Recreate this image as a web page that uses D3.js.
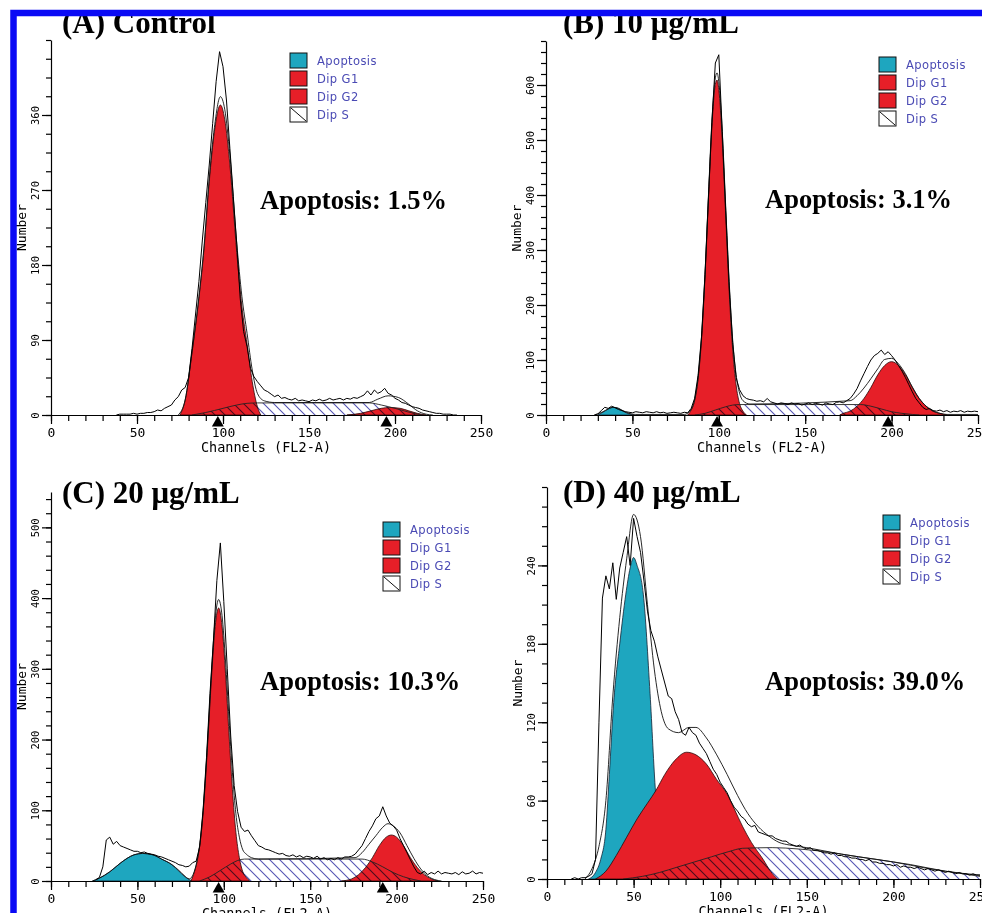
<!DOCTYPE html>
<html>
<head>
<meta charset="utf-8">
<script src="https://cdn.jsdelivr.net/npm/d3@7"></script>
<style>
body { margin: 0; padding: 0; background: #fff; }
</style>
</head>
<body>
<div id="main"></div>
<script>
// ---- data ----
const RAW_STEP = 2;
const legendLabels = ['Apoptosis', 'Dip G1', 'Dip G2', 'Dip S'];
const xTickLabels = [0, 50, 100, 150, 200, 250];

// (A) Control
const rawStartA = 38;
const rawA = [0,1,1,1,1,2,1,2,2,3, 3,4,6,5,8,10,12,18,22,30, 33,45,80,120,160,210,255,300,350,400,
  436,418,378,320,262,205,140,100,82,56, 46,40,35,30,28,25,22,24,20,21, 19,18,20,17,18,17,16,18,17,19,
  17,18,20,18,19,20,18,20,19,21, 20,22,24,29,24,30,26,28,32,26, 24,20,18,15,14,12,10,9,8,6, 5,4,3,2,2,1,1,1,0,0];
const envA = [[74,0],[78,18],[82,76],[86,142],[89,203],[92,284],[95,345],[98.5,382],[101,367],[104,312],[108,206],[111,142],[114,98],[117,54],[120,26],[124,17],[130,15],[185,15],[190,19],[196,23],[202,21],[208,13],[213,5],[218,1],[222,0]];
const apoA = [];
const g1A = [[75,0],[78,18],[82,75],[86,140],[89,200],[92,280],[95,340],[98.5,372],[101,355],[104,300],[108,195],[111,130],[114,85],[117,40],[120,10],[122,0]];
const g2A = [[172,0],[180,2],[186,5],[192,8],[197,9],[203,8],[208,5],[213,2],[218,0]];
const sA = [[82,0],[90,3],[100,8],[108,12],[114,14],[120,14.5],[185,14.5],[192,12],[200,8],[207,4],[212,1.5],[216,0]];
const peaksA = [97, 195];

// (B) 10 ug/mL
const rawStartB = 28;
const rawB = [0,2,8,14,12,16,13,10,8,6, 5,4,6,5,4,6,5,4,6,4, 5,3,4,5,4,3,5,4,12,30,
  72,142,255,395,532,640,655,515,372,235, 132,68,46,35,30,28,27,25,26,24, 30,24,22,20,22,21,19,22,20,21,
  18,20,22,19,21,20,18,22,20,19, 23,24,22,26,30,38,48,62,75,88, 100,108,112,118,110,115,108,100,90,80,
  68,55,42,30,22,14,10,12,8,7, 9,6,8,5,7,6,8,5,7,6, 7,6];
const envB = [[28,0],[30,2],[33,6],[36,11],[39,14],[42,12],[45,7],[48,3],[52,1],[80,1],[84,10],[86,28],[88,68],[90,142],[92,255],[94,398],[96,534],[98,613],[99,622],[100,606],[102,516],[104,379],[106,243],[108,138],[110,74],[112,40],[114,26],[118,20],[176,26],[180,35],[184,49],[188,66],[192,84],[196,101],[200,103],[204,93],[208,75],[212,51],[216,30],[220,16],[224,7],[228,3],[232,1],[250,1]];
const apoB = [[30,0],[33,5],[36,11],[39,14],[42,12],[45,6],[48,2],[51,0]];
const g1B = [[82,0],[84,9],[86,26],[88,65],[90,137],[92,250],[94,391],[96,524],[98,601],[99,609],[100,592],[102,500],[104,362],[106,225],[108,120],[110,55],[112,21],[114,7],[116,0]];
const g2B = [[170,0],[172,3],[176,7],[180,16],[184,30],[188,50],[192,73],[196,90],[200,97],[204,90],[208,73],[212,50],[216,30],[220,16],[224,7],[228,3],[232,0]];
const sB = [[86,0],[92,3],[98,9],[104,15],[108,18],[112,19],[182,19],[188,16],[194,11],[200,6],[206,3],[212,1],[216,0]];
const peaksB = [99, 198];

// (C) 20 ug/mL
const rawStartC = 26;
const rawC = [2,5,20,58,62,52,56,50,48,46, 44,42,42,40,41,39,38,37,35,34, 32,30,28,26,23,22,20,21,26,28,
  48,100,175,265,340,425,478,395,300,205, 135,98,76,70,72,64,57,50,48,45, 44,42,40,38,39,36,35,37,34,36,
  33,35,34,32,35,31,33,30,32,30, 33,31,34,34,35,38,44,50,60,70, 78,88,92,105,92,82,78,72,60,50,
  40,30,20,12,10,14,9,12,10,14, 10,12,11,10,12,9,13,10,11,14, 10,12,11];
const envC = [[24,0],[28,4],[34,13],[40,25],[44,32],[48,37],[53,39],[59,37],[64,31],[70,23],[74,15],[77,8],[80,3],[83,14],[85,35],[87,70],[89,132],[91,213],[93,300],[95,370],[97,398],[99,375],[101,311],[103,230],[105,153],[107,95],[109,62],[111,44],[113,38],[116,33],[120,31],[176,33],[180,40],[184,52],[188,64],[192,76],[195,81],[198,78],[202,68],[206,50],[210,32],[214,17],[218,7],[222,2],[226,0]];
const apoC = [[24,0],[28,4],[34,13],[40,25],[44,32],[48,37],[53,39],[59,37],[64,31],[70,23],[74,14],[77,7],[80,2],[82,0]];
const g1C = [[81,0],[83,13],[85,33],[87,69],[89,129],[91,208],[93,293],[95,360],[97,386],[99,360],[101,293],[103,208],[105,129],[107,69],[109,33],[111,13],[113,5],[115,0]];
const g2C = [[168,0],[174,3],[178,9],[182,19],[186,33],[190,50],[194,62],[197,65],[200,62],[204,50],[208,33],[212,19],[216,9],[220,3],[224,0]];
const sC = [[86,0],[92,6],[98,15],[104,24],[108,29],[112,31],[180,31],[186,27],[192,20],[198,12],[204,6],[210,2],[214,0]];
const peaksC = [97, 192];

// (D) 40 ug/mL
const rawStartD = 14;
const rawD = [0,1,0,1,1,2,4,15,120,215, 232,222,242,214,238,250,262,240,276,262, 250,228,205,190,182,170,160,150,140,138,
  128,122,112,110,116,112,110,104,100,96, 90,84,80,74,70,66,60,55,52,48, 46,42,40,41,36,35,34,33,33,31,
  30,29,29,27,26,25,26,24,23,24, 22,22,21,20,20,19,20,18,18,17, 17,16,16,15,15,14,15,13,13,12,
  12,11,11,10,11,9,10,9,9,8, 9,8,7,8,7,6,7,6,5,6, 5,4,5,4,4,3,4,3,3];
const envD = [[22,0],[26,8],[30,25],[34,60],[38,140],[42,200],[46,245],[50,279],[54,262],[58,210],[62,160],[66,128],[70,115],[76,112],[82,116],[86,116],[92,108],[98,95],[104,80],[110,64],[116,50],[122,40],[128,33],[134,28],[140,26],[150,24],[170,19],[190,15],[210,11],[230,6],[250,3]];
const apoD = [[24,0],[28,5],[31,15],[34,38],[36,80],[38.5,135],[42,180],[45.5,218],[48,238],[50,246],[52,240],[55.6,218],[59.5,142],[62.7,66],[65,35],[68,15],[72,4],[76,0]];
const g1D = [[28,0],[34,6],[40,18],[46,32],[52,46],[58,58],[63,68],[68,80],[74,91],[80.6,97],[86,95],[92,88],[98,76],[104,65],[108,54],[113,40],[118,28],[124.8,15],[129,6],[133,0]];
const g2D = [];
const sD = [[44,0],[55,2],[65,5],[75,9],[85,13],[95,17],[105,21],[113,23.5],[130,24],[145,23],[160,21],[180,17],[200,13],[220,8],[240,4],[250,2]];
const peaksD = [];

// ---- styling ----
const RED = '#e61f28';
const CYAN = '#1ea6bf';
const HATCH = '#5656b4';
const LEGENDTEXT = '#4a4ab4';
const MONO = '"DejaVu Sans Mono", monospace';
const SERIF = '"Liberation Serif", "Times New Roman", serif';

const svg = d3.select('#main').append('svg')
    .attr('width', 982).attr('height', 913)
    .style('display', 'block').style('background', '#fff');

const defs = svg.append('defs');
const hatch = defs.append('pattern').attr('id', 'hatch')
    .attr('patternUnits', 'userSpaceOnUse').attr('width', 10).attr('height', 10);
hatch.append('path')
    .attr('d', 'M0,0 L10,10 M-2,8 L2,12 M8,-2 L12,2')
    .attr('stroke', HATCH).attr('stroke-width', 1.1).attr('fill', 'none');

const drawPanel = (props) => {
    const {
        left, width, bottom, top, yMax, yMajor, yMinor,
        raw, rawStart, envelope, apoptosis, g1, g2, sPhase, peaks,
        title, titleX, titleY, note, noteX, noteY, legendX, legendY
    } = props;
    const x = d3.scaleLinear().domain([0, 250]).range([left, left + width]);
    const y = d3.scaleLinear().domain([0, yMax]).range([bottom, top]);
    const g = svg.append('g');

    const area = d3.area().x(d => x(d[0])).y0(y(0)).y1(d => y(d[1])).curve(d3.curveMonotoneX);
    const line = d3.line().x(d => x(d[0])).y(d => y(d[1])).curve(d3.curveMonotoneX);

    // model components
    if (apoptosis.length) {
        g.append('path').attr('d', area(apoptosis)).attr('fill', CYAN)
            .attr('stroke', '#123').attr('stroke-width', 0.8);
    }
    [g1, g2].filter(c => c.length).forEach(c => {
        g.append('path').attr('d', area(c)).attr('fill', RED)
            .attr('stroke', '#2a0808').attr('stroke-width', 0.8);
    });
    g.append('path').attr('d', area(sPhase)).attr('fill', 'url(#hatch)')
        .style('mix-blend-mode', 'multiply');
    g.append('path').attr('d', line(sPhase)).attr('fill', 'none')
        .attr('stroke', '#222').attr('stroke-width', 0.9);

    // fitted envelope and raw histogram
    g.append('path').attr('d', line(envelope)).attr('fill', 'none')
        .attr('stroke', '#111').attr('stroke-width', 0.9);
    const rawPts = raw.map((v, i) => [rawStart + i * RAW_STEP, v]);
    g.append('path')
        .attr('d', d3.line().x(d => x(d[0])).y(d => y(d[1]))(rawPts))
        .attr('fill', 'none').attr('stroke', '#000').attr('stroke-width', 1);

    // x axis
    const xMinor = d3.axisBottom(x).tickValues(d3.range(0, 251, 10)).tickSize(6).tickSizeOuter(0).tickFormat('');
    const xMajor = d3.axisBottom(x).tickValues(xTickLabels).tickSize(9).tickSizeOuter(0).tickFormat(d3.format('d'));
    g.append('g').attr('transform', `translate(0,${bottom})`).call(xMinor);
    const xm = g.append('g').attr('transform', `translate(0,${bottom})`).call(xMajor);
    xm.select('.domain').remove();
    xm.selectAll('text').attr('y', 13).attr('dy', '0.71em')
        .style('font-family', MONO).style('font-size', '13px').attr('fill', '#000');

    // y axis (the top end of the axis carries no label)
    const yMinorAxis = d3.axisLeft(y).tickValues(d3.range(0, yMax + 0.01, yMinor)).tickSize(5).tickSizeOuter(0).tickFormat('');
    const yMajorAxis = d3.axisLeft(y).tickValues(d3.range(0, yMax - 0.01, yMajor)).tickSize(9).tickSizeOuter(0).tickFormat(d3.format('d'));
    g.append('g').attr('transform', `translate(${left},0)`).call(yMinorAxis);
    const ym = g.append('g').attr('transform', `translate(${left},0)`).call(yMajorAxis);
    ym.select('.domain').remove();
    ym.selectAll('text')
        .attr('x', 0).attr('y', -12).attr('dy', 0)
        .attr('transform', 'rotate(-90)')
        .style('text-anchor', 'middle')
        .style('font-family', MONO).style('font-size', '10.5px').attr('fill', '#000');
    g.selectAll('.domain, .tick line').attr('stroke', '#000').attr('stroke-width', 1.2);

    // G1 / G2 peak markers
    g.selectAll('path.peak').data(peaks).enter().append('path').attr('class', 'peak')
        .attr('d', d3.symbol(d3.symbolTriangle).size(62))
        .attr('transform', d => `translate(${x(d)},${bottom + 8})`)
        .attr('fill', '#000');

    // axis titles
    g.append('text').text('Channels (FL2-A)')
        .attr('x', x(125)).attr('y', bottom + 37)
        .attr('text-anchor', 'middle')
        .style('font-family', MONO).style('font-size', '13.5px');
    g.append('text').text('Number')
        .attr('transform', `translate(${left - 25},${(top + bottom) / 2}) rotate(-90)`)
        .attr('text-anchor', 'middle')
        .style('font-family', MONO).style('font-size', '13px');

    // panel title + apoptosis note
    g.append('text').text(title).attr('x', titleX).attr('y', titleY)
        .style('font-family', SERIF).style('font-weight', 'bold').style('font-size', '31px');
    g.append('text').text(note).attr('x', noteX).attr('y', noteY)
        .style('font-family', SERIF).style('font-weight', 'bold').style('font-size', '26.5px');

    // legend
    const legend = g.append('g').attr('transform', `translate(${legendX},${legendY})`);
    const fills = [CYAN, RED, RED, '#fff'];
    const items = legend.selectAll('g').data(legendLabels).enter().append('g')
        .attr('transform', (d, i) => `translate(0,${i * 18})`);
    items.append('rect').attr('width', 17).attr('height', 15)
        .attr('fill', (d, i) => fills[i]).attr('stroke', '#111').attr('stroke-width', 1);
    items.filter((d, i) => i === 3).append('line')
        .attr('x1', 1).attr('y1', 1).attr('x2', 16).attr('y2', 14)
        .attr('stroke', '#111').attr('stroke-width', 1);
    items.append('text').text(d => d).attr('x', 27).attr('y', 12)
        .attr('fill', LEGENDTEXT)
        .style('font-family', '"DejaVu Sans", sans-serif').style('font-size', '11.5px')
        .style('letter-spacing', '0.4px');
};

drawPanel({ left: 51, width: 430, bottom: 415, top: 40, yMax: 450, yMajor: 90, yMinor: 22.5,
    raw: rawA, rawStart: rawStartA, envelope: envA, apoptosis: apoA, g1: g1A, g2: g2A, sPhase: sA, peaks: peaksA,
    title: '(A) Control', titleX: 62, titleY: 33, note: 'Apoptosis: 1.5%', noteX: 260, noteY: 209,
    legendX: 290, legendY: 53 });
drawPanel({ left: 546, width: 432, bottom: 415, top: 41, yMax: 680, yMajor: 100, yMinor: 20,
    raw: rawB, rawStart: rawStartB, envelope: envB, apoptosis: apoB, g1: g1B, g2: g2B, sPhase: sB, peaks: peaksB,
    title: '(B) 10 μg/mL', titleX: 563, titleY: 33, note: 'Apoptosis: 3.1%', noteX: 765, noteY: 208,
    legendX: 879, legendY: 57 });
drawPanel({ left: 51, width: 432, bottom: 881, top: 492, yMax: 550, yMajor: 100, yMinor: 20,
    raw: rawC, rawStart: rawStartC, envelope: envC, apoptosis: apoC, g1: g1C, g2: g2C, sPhase: sC, peaks: peaksC,
    title: '(C) 20 μg/mL', titleX: 62, titleY: 503, note: 'Apoptosis: 10.3%', noteX: 260, noteY: 690,
    legendX: 383, legendY: 522 });
drawPanel({ left: 547, width: 433, bottom: 879, top: 487, yMax: 300, yMajor: 60, yMinor: 15,
    raw: rawD, rawStart: rawStartD, envelope: envD, apoptosis: apoD, g1: g1D, g2: g2D, sPhase: sD, peaks: peaksD,
    title: '(D) 40 μg/mL', titleX: 563, titleY: 502, note: 'Apoptosis: 39.0%', noteX: 765, noteY: 690,
    legendX: 883, legendY: 515 });

// blue frame along top and left edge
svg.append('path').attr('d', 'M13.5,920 V13 H990')
    .attr('fill', 'none').attr('stroke', '#0a0af5').attr('stroke-width', 6.5);
</script>
</body>
</html>
